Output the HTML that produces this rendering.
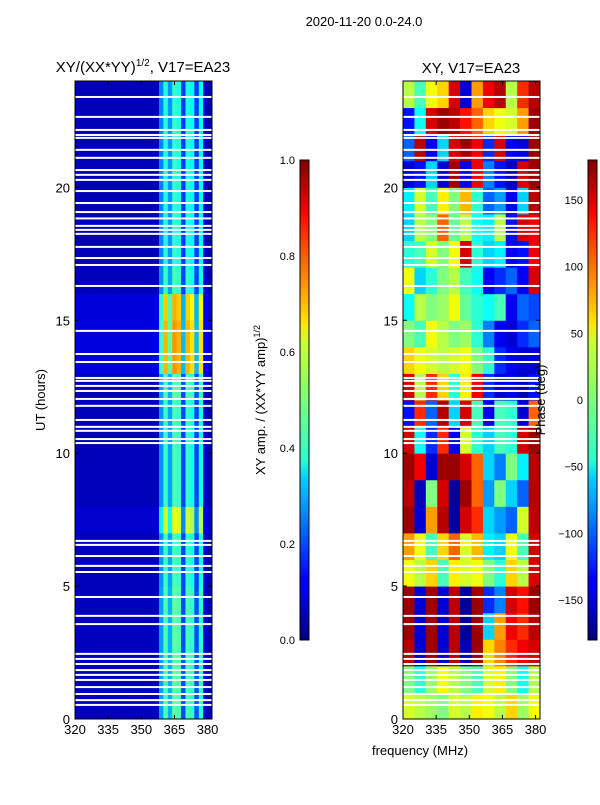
<!DOCTYPE html>
<html><head><meta charset="utf-8"><style>
body{margin:0;background:#fff;width:600px;height:800px;overflow:hidden}
svg{font-family:"Liberation Sans","DejaVu Sans",sans-serif}
</style></head><body>
<svg id="fig" width="600" height="800" xmlns="http://www.w3.org/2000/svg">
<defs>
<linearGradient id="jet" x1="0" y1="1" x2="0" y2="0">
<stop offset="0" stop-color="#00007f"/><stop offset="0.11" stop-color="#0000ff"/><stop offset="0.125" stop-color="#0000ff"/><stop offset="0.34" stop-color="#00d4ff"/><stop offset="0.375" stop-color="#29ffce"/><stop offset="0.5" stop-color="#7dff7a"/><stop offset="0.625" stop-color="#ceff29"/><stop offset="0.66" stop-color="#ffe500"/><stop offset="0.875" stop-color="#ff1400"/><stop offset="0.89" stop-color="#ff0000"/><stop offset="1" stop-color="#7f0000"/>
</linearGradient>
</defs>
<text x="364" y="26" font-size="13" text-anchor="middle">2020-11-20 0.0-24.0</text>
<text x="143" y="72" font-size="15" text-anchor="middle">XY/(XX*YY)<tspan font-size="10" dy="-6">1/2</tspan><tspan dy="6">, V17=EA23</tspan></text>
<text x="471" y="73" font-size="15" text-anchor="middle">XY, V17=EA23</text>
<g id="left"></g>
<g id="right"></g>
<g id="axes"></g>
<rect x="300" y="160" width="9" height="480" fill="url(#jet)" stroke="#000" stroke-width="1"/>
<rect x="588" y="160" width="9" height="480" fill="url(#jet)" stroke="#000" stroke-width="1"/>
<text transform="translate(265,400) rotate(-90)" font-size="13" text-anchor="middle">XY amp. / (XX*YY amp)<tspan font-size="9" dy="-5">1/2</tspan></text>
<text transform="translate(545,400) rotate(-90)" font-size="13" text-anchor="middle">Phase (deg)</text>
<text transform="translate(45,400) rotate(-90)" font-size="13" text-anchor="middle">UT (hours)</text>
<text x="420" y="755" font-size="13" text-anchor="middle">frequency (MHz)</text>
</svg>
<script>
// ---- data ----
const ampColStart = [320,322,324,326,328,330,332,334,336,338,340,342,344,346,348,350,352,354,356,358,360,362,364,366,368,370,372,374,376,378,380];
const ampColValue = [0.06,0.06,0.06,0.06,0.06,0.06,0.06,0.06,0.06,0.06,0.06,0.06,0.06,0.06,0.06,0.06,0.06,0.06,0.07,0.28,0.45,0.3,0.47,0.45,0.2,0.45,0.42,0.2,0.42,0.08,0.05];
const ampHourScale = [1.0,1.0,1.0,1.0,1.0,0.95,0.95,1.3,0.95,0.95,0.95,0.95,1.0,1.55,1.55,1.5,0.95,0.9,0.9,0.9,0.9,0.9,0.9,0.9];
const phaseColStart = [320,325.17,330.33,335.5,340.67,345.83,351,356.17,361.33,366.5,371.67,376.83];
const phaseRows = [
[30,20,10,0,30,20,50,40,20,60,10,40],
[0,-30,10,40,20,0,-20,30,50,0,-40,20],
[160,-150,170,-150,160,-160,170,60,90,120,140,150],
[170,-150,170,-150,160,-170,170,-60,80,140,120,160],
[170,-150,170,-150,160,-170,170,-120,-90,150,130,170],
[40,20,60,-20,50,30,40,0,-30,60,20,150],
[80,40,-20,60,100,30,70,-50,-60,40,-20,150],
[170,-150,80,160,-170,150,120,-60,-80,-100,30,160],
[160,-160,0,150,-170,170,100,-80,0,-60,-100,160],
[170,140,-150,170,170,150,100,-60,-90,0,-50,160],
[150,-40,-120,120,-140,30,-30,-60,-20,-30,150,170],
[-130,120,-100,160,-60,150,-20,-140,-20,-30,-150,100],
[150,20,120,60,-30,50,140,-120,-150,-140,-160,-130],
[60,40,30,20,30,40,0,-30,-120,-140,-150,-150],
[0,-20,40,20,0,10,-30,-90,-140,-150,-120,-100],
[-40,20,0,10,40,-10,-30,-40,-20,-140,-100,-110],
[40,-60,-30,0,20,-20,-40,-140,-120,-100,-140,150],
[-30,-20,30,0,40,150,-30,-60,-50,-140,-130,140],
[-60,20,0,100,-10,20,-40,-50,20,-130,150,140],
[-50,30,-20,50,0,70,-30,-100,-80,-140,-60,160],
[-150,-130,-60,-150,170,-140,140,-90,-130,-160,150,170],
[-100,160,-140,-60,150,170,140,-120,150,-140,-150,170],
[-130,-40,150,170,160,130,100,60,40,30,80,170],
[20,-20,40,60,150,-150,80,140,160,20,120,160]];
const gapHours = [23.4,22.65,22.16,21.97,21.86,21.41,21.11,20.65,20.47,20.28,19.86,19.41,19.07,18.83,18.55,18.4,18.25,17.76,17.34,17.08,16.29,14.6,13.73,13.43,12.83,12.72,12.53,12.34,12.04,11.78,11.25,10.99,10.84,10.53,10.38,6.7,6.55,6.13,5.76,5.53,4.59,3.88,3.57,2.45,2.26,2.07,1.84,1.66,1.47,1.2,0.94,0.71,0.53];
const xTicks = [320,335,350,365,380];
const yTicks = [0,5,10,15,20];
const ampTicks = [0.0,0.2,0.4,0.6,0.8,1.0];
const phaseTicks = [-150,-100,-50,0,50,100,150];

// ---- geometry ----
const NS="http://www.w3.org/2000/svg";
const L={x0:75,x1:212}, R={x0:403,x1:540}, Y0=719, Y1=81;
const fx=(p,f)=>p.x0+(f-320)/(382-320)*(p.x1-p.x0);
const hy=h=>Y0-(h/24)*(Y0-Y1);
const cbY=t=>640-t*480;
function jet(v){v=Math.max(0,Math.min(1,v));
 const r=Math.max(0,Math.min(1,1.5-Math.abs(4*v-3))),g=Math.max(0,Math.min(1,1.5-Math.abs(4*v-2))),b=Math.max(0,Math.min(1,1.5-Math.abs(4*v-1)));
 return `rgb(${Math.round(r*255)},${Math.round(g*255)},${Math.round(b*255)})`;}
function mk(tag,attrs,parent){const e=document.createElementNS(NS,tag);for(const k in attrs)e.setAttribute(k,attrs[k]);parent.appendChild(e);return e;}

const gl=document.getElementById('left'), gr=document.getElementById('right'), ga=document.getElementById('axes');
for(let h=0;h<24;h++){
 for(let c=0;c<ampColStart.length;c++){
  const f0=ampColStart[c], f1=c+1<ampColStart.length?ampColStart[c+1]:382;
  const r=mk('rect',{x:fx(L,f0),y:hy(h+1),width:fx(L,f1)-fx(L,f0)+0.5,height:hy(h)-hy(h+1)+0.5,fill:jet(ampColValue[c]*ampHourScale[h])},gl);
  
  
 }
 for(let c=0;c<phaseColStart.length;c++){
  const f0=phaseColStart[c], f1=c+1<phaseColStart.length?phaseColStart[c+1]:382;
  const r=mk('rect',{x:fx(R,f0),y:hy(h+1),width:fx(R,f1)-fx(R,f0)+0.5,height:hy(h)-hy(h+1)+0.5,fill:jet((phaseRows[h][c]+180)/360)},gr);
  
  
 }
}
for(const g of gapHours){
 for(const p of [L,R]){
  const r=mk('rect',{x:p.x0,y:hy(g)-1,width:p.x1-p.x0,height:2,fill:'#fff'},ga);
  
  
 }
}
for(const p of [L,R]){
 const f=mk('rect',{x:p.x0,y:Y1,width:p.x1-p.x0,height:Y0-Y1,fill:'none',stroke:'#000','stroke-width':1},ga);
 
 
 for(const t of xTicks){const x=fx(p,t);
  mk('line',{x1:x,x2:x,y1:Y0,y2:Y0-4,stroke:'#000'},ga);mk('line',{x1:x,x2:x,y1:Y1,y2:Y1+4,stroke:'#000'},ga);
  const tx=mk('text',{x:x,y:Y0+15,'font-size':13,'text-anchor':'middle'},ga);tx.textContent=t;
  
  
 }
 for(const t of yTicks){const y=hy(t);
  mk('line',{x1:p.x0,x2:p.x0+4,y1:y,y2:y,stroke:'#000'},ga);mk('line',{x1:p.x1,x2:p.x1-4,y1:y,y2:y,stroke:'#000'},ga);
  const tx=mk('text',{x:p.x0-5,y:y+5,'font-size':13,'text-anchor':'end'},ga);tx.textContent=t;
  
  
 }
}
for(const t of ampTicks){const y=cbY(t);
 mk('line',{x1:300,x2:309,y1:y,y2:y,stroke:'#000'},ga);
 const tx=mk('text',{x:295,y:y+4,'font-size':11,'text-anchor':'end'},ga);tx.textContent=t.toFixed(1);
 
 
}
for(const t of phaseTicks){const y=cbY((t+180)/360);
 mk('line',{x1:588,x2:597,y1:y,y2:y,stroke:'#000'},ga);
 const tx=mk('text',{x:583,y:y+4,'font-size':11,'text-anchor':'end'},ga);tx.textContent=t<0?'\u2212'+(-t):t;
 
 
}
</script>
</body></html>
